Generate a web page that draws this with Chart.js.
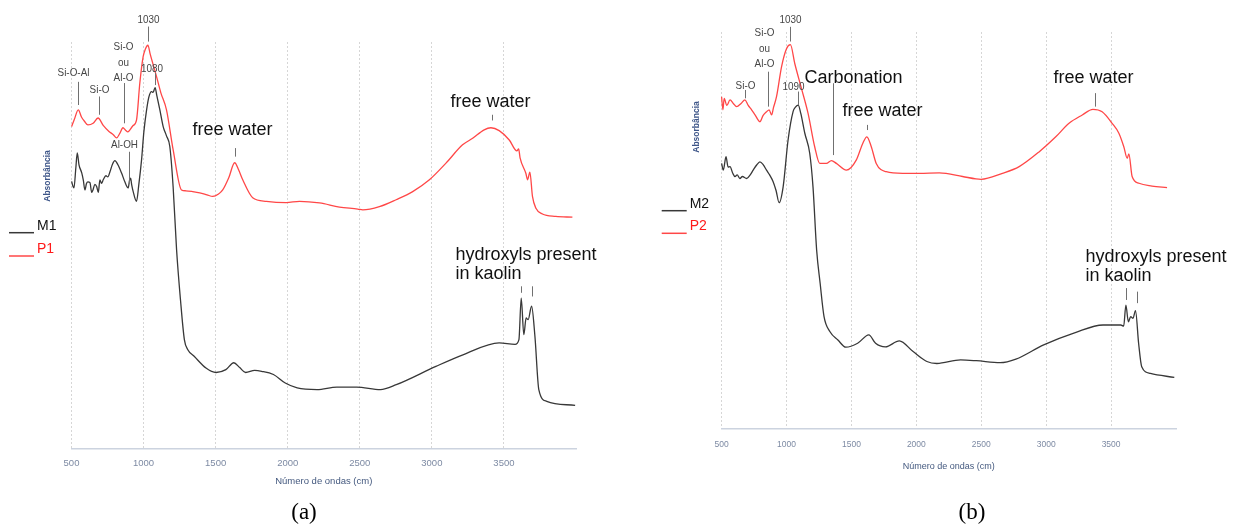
<!DOCTYPE html>
<html>
<head>
<meta charset="utf-8">
<script src="https://cdn.jsdelivr.net/npm/chart.js@4.4.1/dist/chart.umd.min.js"></script>
<style>
  body { margin: 0; background: #fff; }
  .panel { position: absolute; top: 0; width: 617px; height: 527px; }
</style>
</head>
<body>
<div class="panel" style="left:0"><canvas id="chartA"></canvas></div>
<div class="panel" style="left:617px"><canvas id="chartB"></canvas></div>
<script>
// FTIR spectra, wavenumber (cm-1) vs relative absorbance
const waveTicks = [500, 1000, 1500, 2000, 2500, 3000, 3500];

const m1Wavenumber = [501, 510, 517, 530, 540, 552, 571, 582, 593, 604, 614, 628, 640, 649, 662, 675, 686, 697, 708, 720,
  739, 752, 767, 785, 801, 822, 848, 870, 893, 903, 910, 918, 928, 951, 967, 986, 1002, 1021, 1037, 1055,
  1066, 1080, 1092, 1113, 1136, 1159, 1182, 1205, 1229, 1256, 1283, 1307, 1351, 1433, 1503, 1571, 1626, 1667, 1708, 1771,
  1819, 1901, 1983, 2066, 2204, 2341, 2478, 2643, 2753, 3028, 3220, 3467, 3577, 3604, 3620, 3638, 3654, 3668, 3692, 3715,
  3742, 3797, 3994];
const m1Absorbance = [0.657, 0.645, 0.641, 0.690, 0.727, 0.698, 0.678, 0.660, 0.636, 0.652, 0.656, 0.654, 0.630, 0.636, 0.650, 0.644, 0.630, 0.661, 0.652, 0.661,
  0.671, 0.668, 0.681, 0.700, 0.708, 0.698, 0.677, 0.656, 0.641, 0.660, 0.665, 0.648, 0.632, 0.608, 0.649, 0.710, 0.779, 0.833, 0.865, 0.878,
  0.876, 0.888, 0.868, 0.833, 0.792, 0.769, 0.743, 0.644, 0.489, 0.366, 0.268, 0.243, 0.227, 0.198, 0.187, 0.194, 0.211, 0.199, 0.187, 0.192,
  0.190, 0.182, 0.161, 0.149, 0.145, 0.151, 0.151, 0.145, 0.157, 0.202, 0.231, 0.260, 0.256, 0.268, 0.370, 0.280, 0.321, 0.317, 0.350, 0.276,
  0.145, 0.116, 0.106];

const p1Wavenumber = [501, 520, 547, 570, 590, 614, 650, 684, 720, 760, 790, 813, 835, 857, 875, 891, 926, 951, 974, 997,
  1012, 1030, 1046, 1090, 1120, 1159, 1205, 1263, 1293, 1341, 1390, 1440, 1480, 1520, 1549, 1591, 1632, 1660, 1688, 1757,
  1852, 1990, 2082, 2221, 2359, 2486, 2521, 2636, 2752, 2867, 2983, 3098, 3213, 3283, 3363, 3410, 3467, 3537, 3590, 3602,
  3612, 3652, 3664, 3680, 3698, 3722, 3767, 3860, 3975];
const p1Absorbance = [0.792, 0.810, 0.833, 0.815, 0.805, 0.796, 0.800, 0.813, 0.795, 0.780, 0.772, 0.764, 0.775, 0.789, 0.783, 0.779, 0.794, 0.808, 0.899, 0.964,
  0.982, 0.992, 0.970, 0.915, 0.875, 0.833, 0.735, 0.636, 0.634, 0.632, 0.629, 0.624, 0.620, 0.626, 0.636, 0.666, 0.703, 0.685, 0.661, 0.617,
  0.608, 0.605, 0.608, 0.604, 0.594, 0.589, 0.587, 0.595, 0.612, 0.632, 0.661, 0.702, 0.747, 0.763, 0.784, 0.789, 0.782, 0.759, 0.732, 0.737,
  0.715, 0.677, 0.661, 0.680, 0.620, 0.591, 0.577, 0.571, 0.569];

const m2Wavenumber = [500, 513, 534, 550, 565, 585, 603, 620, 641, 660, 693, 720, 743, 770, 795, 820, 846, 870, 897, 920,
  943, 974, 1012, 1051, 1069, 1090, 1110, 1141, 1179, 1204, 1232, 1259, 1289, 1335, 1396, 1457, 1548, 1634, 1686, 1762,
  1869, 1975, 2081, 2158, 2341, 2462, 2646, 2767, 2981, 3224, 3438, 3575, 3597, 3614, 3633, 3651, 3669, 3688, 3712, 3736,
  3803, 3987];
const m2Absorbance = [0.669, 0.652, 0.686, 0.660, 0.661, 0.645, 0.636, 0.640, 0.631, 0.636, 0.631, 0.640, 0.652, 0.665, 0.673, 0.666, 0.652, 0.640, 0.623, 0.600,
  0.570, 0.610, 0.728, 0.800, 0.811, 0.816, 0.795, 0.745, 0.694, 0.610, 0.451, 0.367, 0.283, 0.245, 0.224, 0.206, 0.216, 0.237, 0.216, 0.207,
  0.222, 0.195, 0.170, 0.165, 0.174, 0.172, 0.167, 0.176, 0.212, 0.243, 0.262, 0.262, 0.259, 0.312, 0.270, 0.283, 0.279, 0.298, 0.216, 0.157,
  0.140, 0.130];

const p2Wavenumber = [500, 510, 520, 540, 565, 590, 616, 650, 680, 705, 731, 760, 795, 820, 846, 866, 885, 900, 923, 962,
  1000, 1030, 1064, 1115, 1166, 1217, 1256, 1307, 1346, 1384, 1461, 1538, 1588, 1619, 1653, 1691, 1768, 1895, 2024, 2177,
  2356, 2459, 2498, 2663, 2792, 2945, 3074, 3176, 3278, 3360, 3431, 3508, 3560, 3598, 3624, 3637, 3662, 3715, 3815, 3931];
const p2Absorbance = [0.837, 0.804, 0.833, 0.815, 0.829, 0.820, 0.812, 0.820, 0.829, 0.815, 0.804, 0.790, 0.774, 0.790, 0.799, 0.804, 0.791, 0.810, 0.837, 0.913,
  0.958, 0.968, 0.920, 0.858, 0.795, 0.711, 0.669, 0.669, 0.676, 0.669, 0.652, 0.678, 0.720, 0.736, 0.711, 0.669, 0.648, 0.644, 0.644, 0.645,
  0.636, 0.630, 0.629, 0.644, 0.661, 0.698, 0.736, 0.770, 0.791, 0.805, 0.799, 0.770, 0.745, 0.711, 0.682, 0.693, 0.636, 0.619, 0.612, 0.608];

const BLACK = '#383838';
const RED = '#ff4747';
const smallFont = '11.5px "Liberation Sans", Arial, sans-serif';
const bigFont = '18px "Liberation Sans", Arial, sans-serif';

// peak assignments: leader line at wavenumber `at` from `from` to `to`, label centred at `ty`
const notesA = [
  { at: 547, from: 0.902, to: 0.845, text: ['Si-O-Al'], ty: 0.925, dx: -5 },
  { at: 692, from: 0.866, to: 0.821, text: ['Si-O'], ty: 0.882 },
  { at: 864, from: 0.899, to: 0.800, text: ['Si-O', 'ou', 'Al-O'], ty: 0.988, dx: -1 },
  { at: 900, from: 0.730, to: 0.653, text: ['Al-OH'], ty: 0.747, dx: -5 },
  { at: 1030, from: 1.038, to: 1.001, text: ['1030'], ty: 1.054 },
  { at: 1080, from: 0.924, to: 0.894, text: ['1080'], ty: 0.935, dx: -3.5 },
  { at: 1632, from: 0.739, to: 0.718, text: ['free water'], ty: 0.784, dx: -3, big: true },
  { at: 3414, from: 0.821, to: 0.807, text: ['free water'], ty: 0.853, dx: -2, big: true },
  { at: 3620, from: 0.399, to: 0.383, text: ['hydroxyls present', 'in kaolin'], ty: 0.477, dx: -66, big: true, left: true },
  { at: 3692, from: 0.399, to: 0.374, text: [] }
];

const notesB = [
  { at: 682, from: 0.854, to: 0.833, text: ['Si-O'], ty: 0.864 },
  { at: 859, from: 0.900, to: 0.812, text: ['Si-O', 'ou', 'Al-O'], ty: 0.997, dx: -4 },
  { at: 1030, from: 1.013, to: 0.976, text: ['1030'], ty: 1.030 },
  { at: 1090, from: 0.850, to: 0.816, text: ['1090'], ty: 0.861, dx: -5 },
  { at: 1358, from: 0.871, to: 0.690, text: ['Carbonation'], ty: 0.885, dx: 20, big: true },
  { at: 1619, from: 0.766, to: 0.753, text: ['free water'], ty: 0.801, dx: 15, big: true },
  { at: 3373, from: 0.846, to: 0.812, text: ['free water'], ty: 0.885, dx: -2, big: true },
  { at: 3614, from: 0.355, to: 0.325, text: ['hydroxyls present', 'in kaolin'], ty: 0.434, dx: -41, big: true, left: true },
  { at: 3697, from: 0.346, to: 0.317, text: [] }
];

function notesPlugin(panel) {
  return {
    id: 'notes',
    afterDatasetsDraw(chart) {
      const { ctx, scales: { x, y } } = chart;
      ctx.save();
      ctx.textBaseline = 'middle';

      panel.notes.forEach(n => {
        const px = Math.round(x.getPixelForValue(n.at)) + 0.5;
        ctx.strokeStyle = '#707070';
        ctx.lineWidth = 1;
        ctx.beginPath();
        ctx.moveTo(px, y.getPixelForValue(n.from));
        ctx.lineTo(px, y.getPixelForValue(n.to));
        ctx.stroke();
        ctx.font = n.big ? bigFont : smallFont;
        ctx.fillStyle = n.big ? '#111' : '#454545';
        ctx.textAlign = n.left ? 'left' : 'center';
        const ty = y.getPixelForValue(n.ty);
        n.text.forEach((t, i) => {
          ctx.save();
          ctx.translate(px + (n.dx || 0), ty + i * (n.big ? 19 : 15.5));
          if (!n.big) ctx.scale(0.86, 1); // narrow face for the small assignments
          ctx.fillText(t, 0, 0);
          ctx.restore();
        });
      });

      // legend at the left of the plot
      const lg = panel.legend;
      chart.data.datasets.forEach((ds, i) => {
        const ly = lg.y + i * lg.gap;
        ctx.strokeStyle = ds.borderColor;
        ctx.lineWidth = 1.5;
        ctx.beginPath();
        ctx.moveTo(lg.x, ly);
        ctx.lineTo(lg.x + 25, ly);
        ctx.stroke();
        ctx.font = '14px "Liberation Sans", Arial, sans-serif';
        ctx.fillStyle = ds.label.startsWith('P') ? '#ff1a1a' : '#111';
        ctx.textAlign = 'left';
        ctx.fillText(ds.label, lg.x + 28, ly - 7);
      });

      // y axis title
      ctx.save();
      ctx.translate(panel.yTitle.x, panel.yTitle.y);
      ctx.rotate(-Math.PI / 2);
      ctx.font = 'bold 8.5px "Liberation Sans", Arial, sans-serif';
      ctx.fillStyle = '#3d5588';
      ctx.textAlign = 'center';
      ctx.fillText('Absorbância', 0, 0);
      ctx.restore();

      // panel letter
      ctx.font = '23px "Liberation Serif", "Times New Roman", serif';
      ctx.fillStyle = '#000';
      ctx.textAlign = 'center';
      ctx.fillText(panel.letter, panel.letterPos.x, panel.letterPos.y);
      ctx.restore();
    }
  };
}

function buildChart(id, series, panel) {
  return new Chart(document.getElementById(id), {
    type: 'line',
    data: {
      datasets: series.map(s => ({
        label: s.label,
        data: s.wn.map((w, i) => ({ x: w, y: s.abs[i] })),
        borderColor: s.color,
        borderWidth: 1.3,
        pointRadius: 0,
        cubicInterpolationMode: 'monotone',
        clip: false
      }))
    },
    options: {
      responsive: true,
      maintainAspectRatio: false,
      animation: false,
      layout: { padding: panel.padding },
      plugins: { legend: { display: false }, tooltip: { enabled: false } },
      scales: {
        x: {
          type: 'linear',
          min: 500,
          max: 4000,
          afterBuildTicks: axis => { axis.ticks = waveTicks.map(v => ({ value: v })); },
          afterFit: axis => { axis.height = panel.axisHeight; },
          ticks: {
            font: { family: '"Liberation Sans", Arial', size: panel.tickSize },
            color: '#7d8aa3',
            padding: panel.tickPad,
            maxRotation: 0,
            callback: v => String(v)
          },
          grid: { color: '#d6d6d6', lineWidth: 1, drawTicks: false },
          border: { color: '#ccd3df', width: 1.5, dash: [2, 2] },
          title: {
            display: true,
            text: 'Número de ondas (cm)',
            color: '#44597f',
            font: { family: '"Liberation Sans", Arial', size: panel.titleSize },
            padding: { top: 0, bottom: panel.titlePad }
          }
        },
        y: { display: false, min: 0, max: 1 }
      }
    },
    plugins: [notesPlugin(panel)]
  });
}

buildChart('chartA', [
  { label: 'M1', wn: m1Wavenumber, abs: m1Absorbance, color: BLACK },
  { label: 'P1', wn: p1Wavenumber, abs: p1Absorbance, color: RED }
], {
  padding: { left: 71.5, right: 41, top: 42, bottom: 33.5 },
  axisHeight: 45, tickSize: 9.5, tickPad: 9, titleSize: 9.5, titlePad: 6.5,
  notes: notesA,
  legend: { x: 9, y: 232.7, gap: 23.3 },
  yTitle: { x: 48, y: 176 },
  letter: '(a)', letterPos: { x: 304, y: 513 }
});

buildChart('chartB', [
  { label: 'M2', wn: m2Wavenumber, abs: m2Absorbance, color: BLACK },
  { label: 'P2', wn: p2Wavenumber, abs: p2Absorbance, color: RED }
], {
  padding: { left: 104.6, right: 58, top: 32, bottom: 53 },
  axisHeight: 45, tickSize: 8.5, tickPad: 10.6, titleSize: 9, titlePad: 2.3,
  notes: notesB,
  legend: { x: 44.7, y: 210.7, gap: 22.6 },
  yTitle: { x: 80, y: 127 },
  letter: '(b)', letterPos: { x: 355, y: 513 }
});
</script>
</body>
</html>
